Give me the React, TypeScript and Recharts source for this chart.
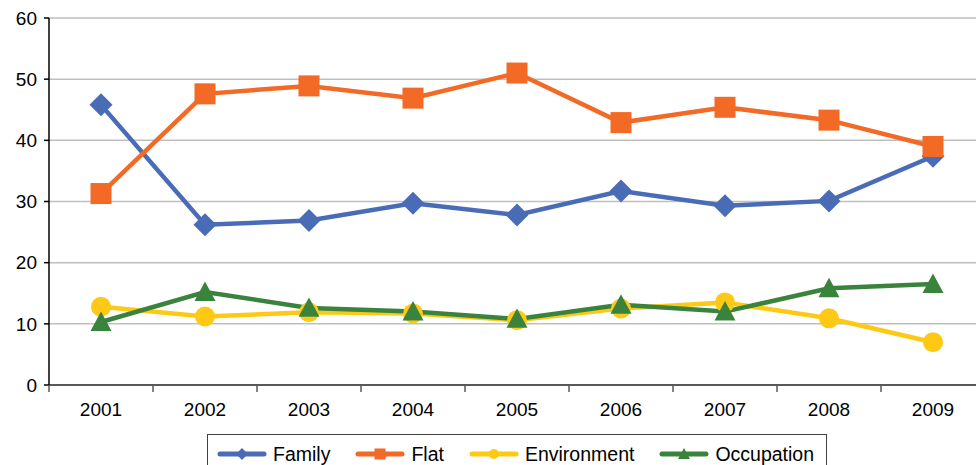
import React from "react";
import { CartesianGrid, Legend, Line, LineChart, XAxis, YAxis } from "recharts";

const years = ["2001", "2002", "2003", "2004", "2005", "2006", "2007", "2008", "2009"];
const family = [45.8, 26.2, 26.9, 29.7, 27.8, 31.7, 29.3, 30.1, 37.4];
const flat = [31.3, 47.6, 48.9, 46.9, 51.0, 42.9, 45.4, 43.3, 39.0];
const environment = [12.8, 11.2, 11.9, 11.7, 10.6, 12.5, 13.5, 10.9, 7.0];
const occupation = [10.3, 15.2, 12.6, 12.0, 10.8, 13.1, 12.0, 15.8, 16.5];
const yTicks = [0, 10, 20, 30, 40, 50, 60];

const BLUE = "#4a6cb6";
const ORANGE = "#f26a25";
const YELLOW = "#fec914";
const GREEN = "#3a833c";

const PLOT_LEFT = 49;
const STEP = 104;
const CHART_W = PLOT_LEFT + STEP * years.length;
const CHART_H = 465;
const FONT = "'Liberation Sans', Arial, sans-serif";

const data = years.map((year, i) => ({
  year,
  family: family[i],
  flat: flat[i],
  environment: environment[i],
  occupation: occupation[i],
}));

type Shape = "diamond" | "square" | "circle" | "triangle";

function marker(shape: Shape, cx: number, cy: number, s: number, color: string, key?: string) {
  const h = s / 2;
  if (shape === "diamond")
    return <polygon key={key} points={`${cx},${cy - h} ${cx + h},${cy} ${cx},${cy + h} ${cx - h},${cy}`} fill={color} />;
  if (shape === "square") return <rect key={key} x={cx - h} y={cy - h} width={s} height={s} fill={color} />;
  if (shape === "circle") return <circle key={key} cx={cx} cy={cy} r={h} fill={color} />;
  return <polygon key={key} points={`${cx},${cy - h} ${cx + h},${cy + h * 0.85} ${cx - h},${cy + h * 0.85}`} fill={color} />;
}

const series: { key: string; name: string; color: string; shape: Shape; size: number; legendSize: number }[] = [
  { key: "family", name: "Family", color: BLUE, shape: "diamond", size: 23, legendSize: 12 },
  { key: "flat", name: "Flat", color: ORANGE, shape: "square", size: 21, legendSize: 11 },
  { key: "environment", name: "Environment", color: YELLOW, shape: "circle", size: 20, legendSize: 10 },
  { key: "occupation", name: "Occupation", color: GREEN, shape: "triangle", size: 21, legendSize: 12 },
];

function XTick(props: any) {
  const { x, y, payload } = props;
  const left = x - STEP / 2;
  return (
    <g>
      <line x1={left} y1={y - 8} x2={left} y2={y - 1} stroke="#595959" strokeWidth={1.5} />
      <text x={x} y={y + 23} textAnchor="middle" fontFamily={FONT} fontSize={19} fill="#000">
        {payload.value}
      </text>
    </g>
  );
}

function LegendBox() {
  return (
    <div
      style={{
        border: "1.5px solid #404040",
        height: 40,
        boxSizing: "border-box",
        display: "flex",
        alignItems: "center",
        paddingLeft: 9,
        fontFamily: FONT,
        fontSize: 19.5,
        color: "#000",
        background: "#fff",
      }}
    >
      {series.map((s) => (
        <div key={s.key} style={{ display: "flex", alignItems: "center", marginRight: 25 }}>
          <svg width={50} height={14} style={{ marginRight: 6 }}>
            <line x1={3} y1={7} x2={47} y2={7} stroke={s.color} strokeWidth={5} strokeLinecap="round" />
            {marker(s.shape, 25, 7, s.legendSize, s.color)}
          </svg>
          <span>{s.name}</span>
        </div>
      ))}
    </div>
  );
}

export default function App() {
  return (
    <div style={{ position: "fixed", left: 0, top: 0, width: 976, height: 465, overflow: "hidden", background: "#fff" }}>
      <LineChart width={CHART_W} height={CHART_H} data={data} margin={{ top: 18, right: 0, left: 0, bottom: 0 }}>
        <CartesianGrid vertical={false} stroke="#bfbfbf" strokeWidth={1.5} />
        <XAxis
          dataKey="year"
          height={40}
          stroke="#595959"
          strokeWidth={2}
          tickLine={false}
          tick={<XTick />}
          interval={0}
          padding={{ left: STEP / 2, right: STEP / 2 }}
        />
        <YAxis
          width={PLOT_LEFT}
          domain={[0, 60]}
          ticks={yTicks}
          stroke="#000"
          strokeWidth={1.5}
          tickSize={5}
          tickMargin={7}
          tick={{ fontFamily: FONT, fontSize: 19, fill: "#000" }}
        />
        <Legend
          verticalAlign="bottom"
          content={() => <LegendBox />}
          wrapperStyle={{ left: 207, top: 434, width: 620 }}
        />
        {series.map((s) => (
          <Line
            key={s.key}
            dataKey={s.key}
            name={s.name}
            type="linear"
            stroke={s.color}
            strokeWidth={4.5}
            isAnimationActive={false}
            dot={(p: any) => marker(s.shape, p.cx, p.cy, s.size, s.color, `${s.key}-${p.index}`)}
            activeDot={false}
          />
        ))}
      </LineChart>
    </div>
  );
}
